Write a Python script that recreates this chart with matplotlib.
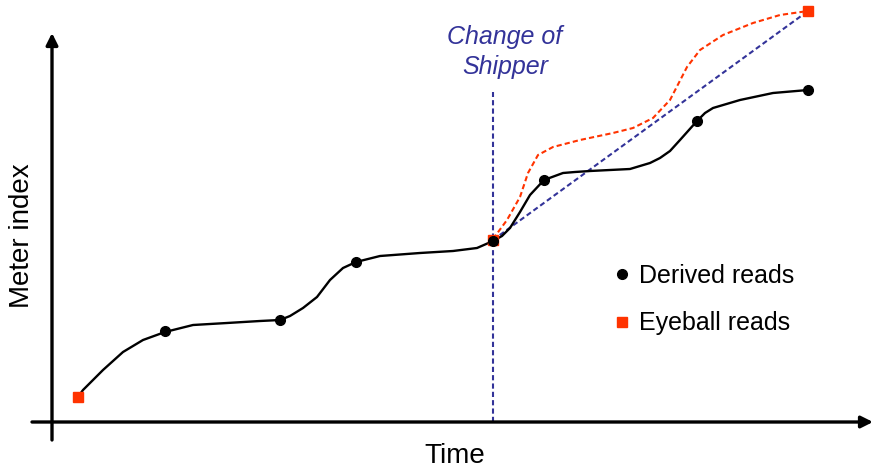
import matplotlib.pyplot as plt

plt.rcParams['font.family'] = ['Liberation Sans', 'DejaVu Sans']

# time / meter index, origin where the two axes cross
derived_t = [113, 228, 304, 441, 492, 645, 756]
derived_m = [91, 102, 160, 181, 242, 301, 332]

eyeball_t = [26, 441, 756]
eyeball_m = [25, 182, 411]

# traced consumption curve (actual)
curve_t = [26, 31, 51, 71, 91, 113, 141, 175, 208, 228, 238, 251, 265, 278, 291, 304,
           328, 368, 401, 425, 441, 450, 458, 468, 478, 492, 511, 523, 538, 578, 588,
           598, 608, 618, 628, 645, 653, 661, 688, 721, 756]
curve_m = [25, 32, 52, 70, 82, 90, 97, 99, 101, 102, 106, 114, 125, 142, 154, 160,
           166, 169, 171, 174, 181, 186, 194, 210, 227, 242, 249, 250, 251, 253, 256,
           259, 264, 271, 282, 301, 309, 314, 322, 329, 332]

# curve assumed from the eyeball read
eye_curve_t = [441, 455, 468, 476, 486, 501, 528, 561, 581, 601, 618, 635, 648,
               671, 701, 728, 756]
eye_curve_m = [183, 202, 225, 249, 267, 275, 282, 289, 294, 304, 322, 355, 372,
               387, 399, 407, 411]

change_t = 441
red = '#ff3300'
blue = '#333399'

fig = plt.figure(figsize=(8.73, 4.69), dpi=100)
ax = fig.add_axes([0, 0, 1, 1])
ax.set_xlim(-52, 821)
ax.set_ylim(-47, 422)
ax.axis('off')

# axes with arrow heads
arrow = dict(arrowstyle='-|>,head_length=0.5,head_width=0.25', mutation_scale=14,
             lw=2.4, color='black', shrinkA=0, shrinkB=0)
ax.annotate('', xy=(0, 389), xytext=(0, -18), arrowprops=arrow)
ax.annotate('', xy=(821, 0), xytext=(-20, 0), arrowprops=arrow)

# change of shipper
ax.plot([change_t, change_t], [0, 330], color=blue, lw=1.5, ls=(0, (2.5, 1.5)))
ax.plot([eyeball_t[1], eyeball_t[2]], [eyeball_m[1], eyeball_m[2]],
        color=blue, lw=1.5, ls=(0, (2.5, 1.5)))
ax.text(change_t + 12, 370, 'Change of\nShipper', color=blue, fontsize=18,
        style='italic', ha='center', va='center', linespacing=1.3)

ax.plot(eye_curve_t, eye_curve_m, color=red, lw=1.5, ls=(0, (2.5, 1.5)),
        dash_joinstyle='round')
ax.plot(curve_t, curve_m, color='black', lw=1.7, solid_joinstyle='round')

ax.plot(eyeball_t, eyeball_m, 's', color=red, ms=7, ls='none', label='Eyeball reads')
ax.plot(derived_t, derived_m, 'o', color='black', ms=7, ls='none', label='Derived reads')

h, l = ax.get_legend_handles_labels()
ax.legend(h[::-1], l[::-1], loc='upper left', bbox_to_anchor=(0.698, 0.438),
          frameon=False, fontsize=18, handlelength=1.0, handletextpad=0.2,
          borderpad=0, borderaxespad=0, labelspacing=0.95)

ax.text(-30, 186, 'Meter index', rotation=90, fontsize=20, ha='center', va='center')
ax.text(403, -34, 'Time', fontsize=20, ha='center', va='center')

fig.savefig('out.png', dpi=100)
